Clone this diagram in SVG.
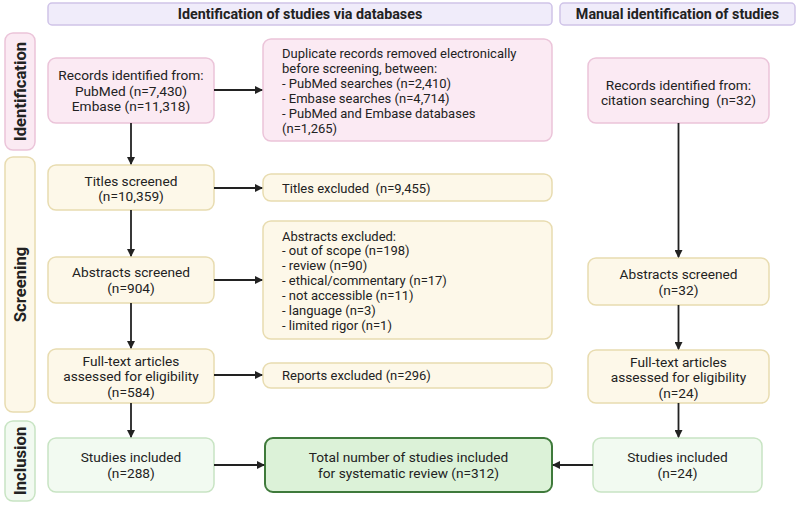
<svg xmlns="http://www.w3.org/2000/svg" width="800" height="509" viewBox="0 0 800 509">
<style>
text{font-family:Roboto,"Liberation Sans",sans-serif;font-size:13px;fill:#222}
.c{text-anchor:middle;font-size:13.7px}
.b{font-weight:bold;font-size:14.3px}
.side{font-size:16.7px;font-weight:bold;text-anchor:middle}
.hdr{fill:#f0ecfa;stroke:#cfc3e8;stroke-width:1.5}
.pink{fill:#fbeaf3;stroke:#ebc4d9;stroke-width:1.5}
.yel{fill:#fdf8e9;stroke:#e8dcb0;stroke-width:1.5}
.grn{fill:#f2faf1;stroke:#c8e4c3;stroke-width:1.5}
.tot{fill:#dcf2d8;stroke:#3f7a3b;stroke-width:2}
.ln{stroke:#222;stroke-width:1.8;fill:none;marker-end:url(#ah)}
</style>
<defs>
<marker id="ah" markerWidth="8" markerHeight="8" refX="7" refY="4" orient="auto" markerUnits="userSpaceOnUse">
<path d="M0,0 L8,4 L0,8 z" fill="#222"/>
</marker>
</defs>
<rect width="800" height="509" fill="#fff"/>

<g id="header-db"><rect class="hdr" x="48" y="3" width="504" height="22" rx="4"/><text class="c b" x="300" y="19">Identification of studies via databases</text></g>
<g id="header-manual"><rect class="hdr" x="560" y="3" width="235" height="22" rx="4"/><text class="c b" x="677.5" y="19">Manual identification of studies</text></g>

<g id="label-identification"><rect class="pink" x="5" y="33" width="30" height="117" rx="8"/><text class="side" transform="translate(26,91.5) rotate(-90)">Identification</text></g>
<g id="label-screening"><rect class="yel" x="5" y="157" width="30" height="255" rx="8"/><text class="side" transform="translate(26,284.5) rotate(-90)">Screening</text></g>
<g id="label-inclusion"><rect class="grn" x="5" y="421" width="30" height="80" rx="8"/><text class="side" transform="translate(26,461) rotate(-90)">Inclusion</text></g>

<g id="records-db"><rect class="pink" x="48" y="58" width="166" height="65" rx="8"/>
<text class="c" x="131" y="80">Records identified from:</text>
<text class="c" x="131" y="95.5">PubMed (n=7,430)</text>
<text class="c" x="131" y="111">Embase (n=11,318)</text></g>

<g id="duplicates"><rect class="pink" x="263" y="39" width="289" height="102" rx="8"/>
<text x="282" y="57.5">Duplicate records removed electronically</text>
<text x="282" y="72.5">before screening, between:</text>
<text x="282" y="87.5">- PubMed searches (n=2,410)</text>
<text x="282" y="102.5">- Embase searches (n=4,714)</text>
<text x="282" y="117.5">- PubMed and Embase databases</text>
<text x="282" y="132.5">(n=1,265)</text></g>

<g id="records-manual"><rect class="pink" x="588" y="58" width="181" height="65" rx="8"/>
<text class="c" x="678.5" y="90">Records identified from:</text>
<text class="c" x="678.5" y="105" xml:space="preserve">citation searching  (n=32)</text></g>

<g id="titles-screened"><rect class="yel" x="48" y="165" width="166" height="45" rx="8"/>
<text class="c" x="131" y="186">Titles screened</text>
<text class="c" x="131" y="200.5">(n=10,359)</text></g>

<g id="titles-excluded"><rect class="yel" x="263" y="174" width="289" height="27" rx="8"/>
<text x="282" y="192.5" xml:space="preserve">Titles excluded  (n=9,455)</text></g>

<g id="abstracts-excluded"><rect class="yel" x="263" y="221" width="289" height="118" rx="8"/>
<text x="282" y="240.5">Abstracts excluded:</text>
<text x="282" y="255">- out of scope (n=198)</text>
<text x="282" y="269.5">- review (n=90)</text>
<text x="282" y="284.5">- ethical/commentary (n=17)</text>
<text x="282" y="299.5">- not accessible (n=11)</text>
<text x="282" y="314.5">- language (n=3)</text>
<text x="282" y="329.5">- limited rigor (n=1)</text></g>

<g id="abstracts-db"><rect class="yel" x="48" y="257" width="166" height="46" rx="8"/>
<text class="c" x="131" y="277">Abstracts screened</text>
<text class="c" x="131" y="292.5">(n=904)</text></g>

<g id="abstracts-manual"><rect class="yel" x="588" y="258" width="181" height="47" rx="8"/>
<text class="c" x="678.5" y="279">Abstracts screened</text>
<text class="c" x="678.5" y="294.5">(n=32)</text></g>

<g id="fulltext-db"><rect class="yel" x="48" y="349" width="166" height="54" rx="8"/>
<text class="c" x="131" y="366">Full-text articles</text>
<text class="c" x="131" y="381">assessed for eligibility</text>
<text class="c" x="131" y="396.5">(n=584)</text></g>

<g id="reports-excluded"><rect class="yel" x="263" y="363" width="289" height="25" rx="8"/>
<text x="282" y="380">Reports excluded (n=296)</text></g>

<g id="fulltext-manual"><rect class="yel" x="588" y="350" width="181" height="53" rx="8"/>
<text class="c" x="678.5" y="367">Full-text articles</text>
<text class="c" x="678.5" y="382">assessed for eligibility</text>
<text class="c" x="678.5" y="397.5">(n=24)</text></g>

<g id="included-db"><rect class="grn" x="48" y="438" width="166" height="54" rx="8"/>
<text class="c" x="131" y="462">Studies included</text>
<text class="c" x="131" y="477.5">(n=288)</text></g>

<g id="total"><rect class="tot" x="265" y="438" width="287" height="54" rx="8"/>
<text class="c" x="408.5" y="462">Total number of studies included</text>
<text class="c" x="408.5" y="477.5">for systematic review (n=312)</text></g>

<g id="included-manual"><rect class="grn" x="593" y="438" width="169" height="54" rx="8"/>
<text class="c" x="677.5" y="462">Studies included</text>
<text class="c" x="677.5" y="477.5">(n=24)</text></g>

<g id="connectors">
<path class="ln" d="M214,90 H262"/>
<path class="ln" d="M131,123 V164"/>
<path class="ln" d="M214,188 H262"/>
<path class="ln" d="M131,210 V256"/>
<path class="ln" d="M214,280 H262"/>
<path class="ln" d="M131,303 V348"/>
<path class="ln" d="M214,375 H262"/>
<path class="ln" d="M131,403 V437"/>
<path class="ln" d="M214,465 H264"/>
<path class="ln" d="M678.5,123 V257"/>
<path class="ln" d="M678.5,305 V349"/>
<path class="ln" d="M678.5,403 V437"/>
<path class="ln" d="M593,465 H553"/>
</g>
</svg>
